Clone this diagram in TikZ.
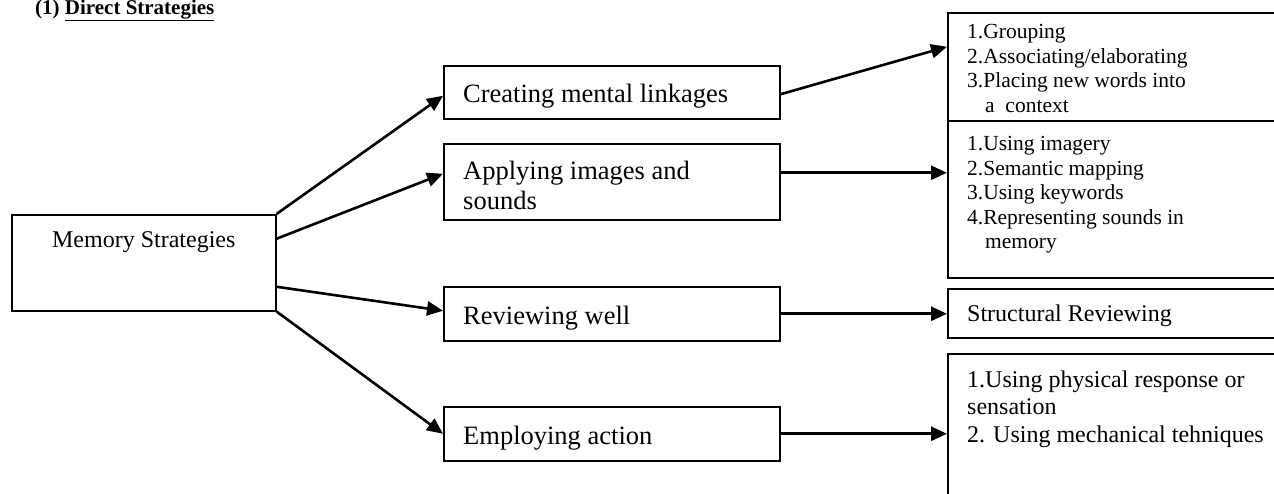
\documentclass[tikz,border=0pt]{standalone}
\usepackage{fontspec}
\setmainfont{Liberation Serif}
\usetikzlibrary{positioning}
\usetikzlibrary{arrows.meta}

\begin{document}
\begin{tikzpicture}[x=1pt,y=1pt]

          \tikzstyle{boxNode} = [draw, line width=1.5pt, anchor=north west, inner sep=0pt];
          \tikzstyle{midText} = [anchor=west, align=left, inner sep=0pt, font=\fontsize{26.5}{30}\selectfont];
          \tikzstyle{listText} = [anchor=north west, align=left, inner sep=0pt, font=\fontsize{21.5}{24.6}\selectfont];
          \tikzstyle{bigText} = [align=left, inner sep=0pt, font=\fontsize{24}{27.5}\selectfont];
          \tikzstyle{arrowEdge} = [line width=2.6pt, -{Triangle[length=16pt,width=14pt]}];

          \clip (0,0) rectangle (1274,-493);

          \node[anchor=base west, inner sep=0pt, font=\fontsize{21}{24}\selectfont\bfseries] (title) at (35,-14) {(1) \underline{Direct Strategies}};

          % boxes
          \node[boxNode, minimum width=264pt, minimum height=96pt] (mem) at (11,-214) {};
          \node[boxNode, minimum width=336pt, minimum height=53pt] (create) at (443,-65) {};
          \node[boxNode, minimum width=336pt, minimum height=76pt] (apply) at (443,-143) {};
          \node[boxNode, minimum width=336pt, minimum height=54pt] (review) at (443,-286) {};
          \node[boxNode, minimum width=336pt, minimum height=54pt] (employ) at (443,-406) {};
          \node[boxNode, minimum width=340pt, minimum height=108pt] (grp) at (947,-12) {};
          \node[boxNode, minimum width=340pt, minimum height=157pt] (img) at (947,-120) {};
          \node[boxNode, minimum width=340pt, minimum height=49pt] (struct) at (947,-288) {};
          \node[boxNode, minimum width=340pt, minimum height=160pt] (act) at (947,-353) {};

          % texts
          \node[bigText, anchor=base] (memText) at ([yshift=-33pt]mem.north) {Memory Strategies};
          \node[midText] (createText) at ([xshift=20pt,yshift=-4pt]create.west) {Creating mental linkages};
          \node[midText] (applyText) at ([xshift=20pt,yshift=-4pt]apply.west) {Applying images and\\sounds};
          \node[midText] (reviewText) at ([xshift=20pt,yshift=-4pt]review.west) {Reviewing well};
          \node[midText] (employText) at ([xshift=20pt,yshift=-4pt]employ.west) {Employing action};
          \node[listText] (grpText) at ([xshift=20pt,yshift=-12pt]grp.north west) {1.Grouping\\2.Associating/elaborating\\3.Placing new words into\\\hspace*{18pt}a~~context};
          \node[listText] (imgText) at ([xshift=20pt,yshift=-16pt]img.north west) {1.Using imagery\\2.Semantic mapping\\3.Using keywords\\4.Representing sounds in\\\hspace*{18pt}memory};
          \node[bigText, anchor=west] (structText) at ([xshift=20pt,yshift=-3pt]struct.west) {Structural Reviewing};
          \node[bigText, anchor=north west] (actText) at ([xshift=20pt,yshift=-17.6pt]act.north west) {1.Using physical response or\\sensation\\2. Using mechanical tehniques};

          % arrows
          \draw[arrowEdge] (mem.north east) -- ([yshift=-3.5pt]create.west);
          \draw[arrowEdge] ([yshift=24pt]mem.east) -- ([yshift=8pt]apply.west);
          \draw[arrowEdge] ([yshift=-24pt]mem.east) -- ([yshift=3pt]review.west);
          \draw[arrowEdge] (mem.south east) -- (employ.west);
          \draw[arrowEdge] ([yshift=-2pt]create.east) -- ([yshift=20pt]grp.west);
          \draw[arrowEdge] ([yshift=9pt]apply.east) -- ([yshift=9pt]apply.east -| img.west);
          \draw[arrowEdge] (review.east) -- (review.east -| struct.west);
          \draw[arrowEdge] (employ.east) -- (employ.east -| act.west);
        \end{tikzpicture}
\end{document}
